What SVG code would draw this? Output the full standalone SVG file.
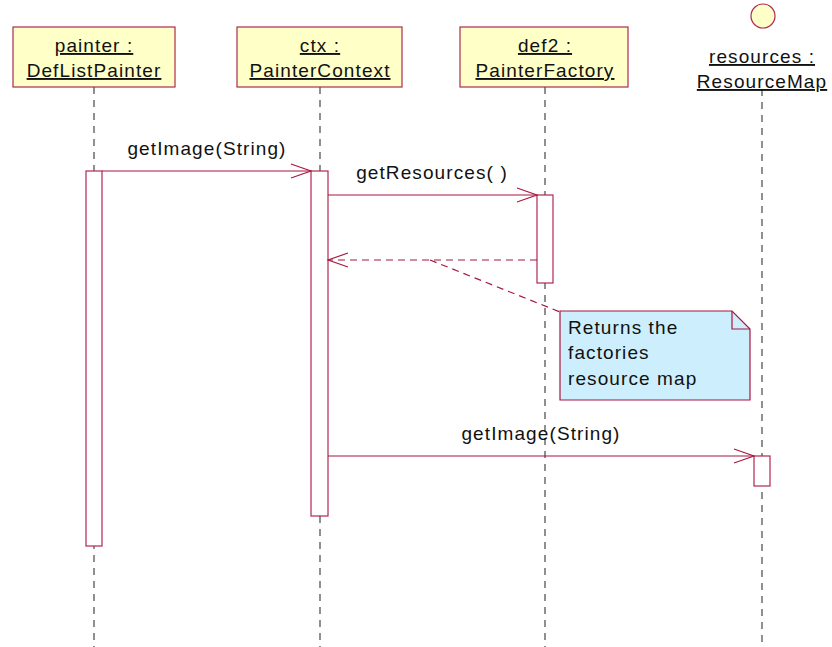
<svg xmlns="http://www.w3.org/2000/svg" width="832" height="647" viewBox="0 0 832 647">
<style>
.obj{fill:#ffffc8;stroke:#b0284f;stroke-width:1.2}
.t{font-family:"Liberation Sans",Arial,sans-serif;font-size:19px;letter-spacing:1.1px;fill:#111}
.u{text-decoration:underline}
.life{stroke:#555;stroke-width:1.3;stroke-dasharray:7,6}
.act{fill:#fff;stroke:#b0284f;stroke-width:1.2}
.msg{stroke:#a8173f;stroke-width:1.2;fill:none}
.dash{stroke-dasharray:7,5}
.note{fill:#cdeefc;stroke:#a8173f;stroke-width:1.2}
</style>
<defs>
<marker id="arr" viewBox="0 0 22 16" refX="21" refY="8" markerWidth="22" markerHeight="16" markerUnits="userSpaceOnUse" orient="auto">
<path d="M1,1 L21,8 L1,15" fill="none" stroke="#a8173f" stroke-width="1.2"/>
</marker>
</defs>
<g id="lifelines">
<line class="life" x1="94" y1="87" x2="94" y2="647"/>
<line class="life" x1="320" y1="87" x2="320" y2="647"/>
<line class="life" x1="545" y1="87" x2="545" y2="647"/>
<line class="life" x1="762" y1="89" x2="762" y2="647"/>
</g>
<g id="painter">
<rect class="obj" x="13" y="27" width="162" height="60"/>
<text class="t u" x="94" y="52" text-anchor="middle">painter : </text>
<text class="t u" x="94" y="77" text-anchor="middle">DefListPainter</text>
</g>
<g id="ctx">
<rect class="obj" x="237" y="27" width="165" height="60"/>
<text class="t u" x="320" y="52" text-anchor="middle">ctx : </text>
<text class="t u" x="320" y="77" text-anchor="middle">PainterContext</text>
</g>
<g id="def2">
<rect class="obj" x="460" y="27" width="168" height="60"/>
<text class="t u" x="545" y="52" text-anchor="middle">def2 : </text>
<text class="t u" x="545" y="77" text-anchor="middle">PainterFactory</text>
</g>
<g id="resources">
<circle cx="763" cy="16" r="12" fill="#ffffc8" stroke="#b0284f" stroke-width="1.2"/>
<text class="t u" x="762" y="63" text-anchor="middle">resources : </text>
<text class="t u" x="762" y="88" text-anchor="middle">ResourceMap</text>
</g>
<g id="activations">
<rect class="act" x="86" y="171" width="16" height="375"/>
<rect class="act" x="311" y="171" width="17" height="345"/>
<rect class="act" x="537" y="195" width="16" height="88"/>
<rect class="act" x="754" y="456" width="16" height="30"/>
</g>
<g id="connectors">
<line class="msg" x1="102" y1="171" x2="311" y2="171" marker-end="url(#arr)"/>
<text class="t" x="207" y="155" text-anchor="middle">getImage(String)</text>
<line class="msg" x1="328" y1="195" x2="537" y2="195" marker-end="url(#arr)"/>
<text class="t" x="432" y="179" text-anchor="middle">getResources( )</text>
<line class="msg dash" x1="537" y1="260" x2="328" y2="260" marker-end="url(#arr)"/>
<line class="msg dash" x1="430" y1="260" x2="560" y2="312"/>
<line class="msg" x1="328" y1="456" x2="754" y2="456" marker-end="url(#arr)"/>
<text class="t" x="541" y="440" text-anchor="middle">getImage(String)</text>
</g>
<g id="note">
<path class="note" d="M560,311 H732 L750,329 V400 H560 Z"/>
<path d="M732,311 V329 H750" fill="none" stroke="#a8173f" stroke-width="1.2"/>
<text class="t" x="568" y="334">Returns the</text>
<text class="t" x="568" y="359">factories</text>
<text class="t" x="568" y="385">resource map</text>
</g>
</svg>
